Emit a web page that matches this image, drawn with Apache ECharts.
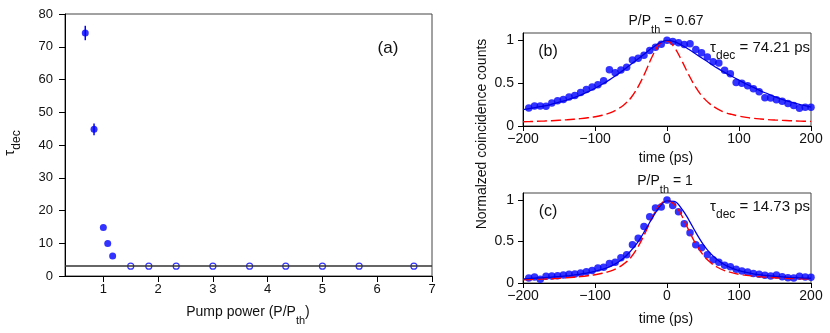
<!DOCTYPE html>
<html><head><meta charset="utf-8">
<script src="https://cdn.jsdelivr.net/npm/echarts@6/dist/echarts.min.js"></script>
<style>html,body{margin:0;padding:0;background:#fff}#c{width:830px;height:333px}</style>
</head><body><div id="c"></div>
<script>
// ---------- Panel (a) ----------
var aFilledX = [0.67, 0.83, 1.0, 1.08, 1.17];
var aFilledY = [74.2, 44.8, 14.8, 9.9, 6.1];
var aFilledErr = [2.2, 1.8, 0, 0, 0];
var aOpenX = [1.5, 1.83, 2.33, 3, 3.67, 4.33, 5, 5.67, 6.67];
var aOpenY = [3, 3, 3, 3, 3, 3, 3, 3, 3];
var aBaseline = 3;
var aXTicks = [1, 2, 3, 4, 5, 6, 7];

// ---------- Panels (b), (c) ----------
var tDots = [-192,-184,-176,-168,-160,-152,-144,-136,-128,-120,-112,-104,-96,-88,-80,-72,-64,-56,-48,-40,-32,-24,-16,-8,0,8,16,24,32,40,48,56,64,72,80,88,96,104,112,120,128,136,144,152,160,168,176,184,192,200];
var bDots = [0.21,0.233,0.233,0.23,0.268,0.296,0.31,0.338,0.355,0.39,0.425,0.455,0.482,0.528,0.655,0.62,0.652,0.685,0.77,0.79,0.825,0.88,0.92,0.955,1.0,0.985,0.97,0.95,0.96,0.893,0.855,0.805,0.75,0.735,0.65,0.61,0.508,0.5,0.47,0.435,0.40,0.33,0.328,0.305,0.288,0.262,0.24,0.208,0.218,0.218];
var cDots = [0.06,0.072,0.045,0.08,0.084,0.088,0.095,0.104,0.108,0.12,0.136,0.15,0.182,0.19,0.235,0.25,0.304,0.34,0.46,0.54,0.68,0.8,0.905,0.915,1.0,0.935,0.86,0.715,0.605,0.46,0.425,0.34,0.28,0.25,0.215,0.195,0.165,0.144,0.132,0.116,0.104,0.092,0.085,0.097,0.076,0.062,0.06,0.08,0.072,0.068];

var tFit = [-200,-190,-180,-170,-160,-150,-140,-130,-120,-110,-100,-90,-80,-70,-60,-50,-40,-30,-20,-10,0,10,20,30,40,50,60,70,80,90,100,110,120,130,140,150,160,170,180,190,200];
var bFit = [0.19,0.205,0.22,0.235,0.255,0.278,0.30,0.328,0.36,0.398,0.44,0.487,0.538,0.595,0.655,0.72,0.785,0.85,0.915,0.97,1.0,0.985,0.945,0.895,0.84,0.785,0.73,0.675,0.625,0.58,0.535,0.49,0.45,0.41,0.375,0.34,0.31,0.285,0.26,0.24,0.22];
var bIrf = [0.05,0.052,0.055,0.058,0.062,0.067,0.072,0.078,0.086,0.096,0.108,0.125,0.15,0.19,0.245,0.33,0.46,0.63,0.82,0.96,0.995,0.92,0.77,0.6,0.45,0.335,0.255,0.2,0.16,0.135,0.115,0.1,0.09,0.082,0.075,0.07,0.066,0.062,0.059,0.056,0.054];
var cFit = [0.05,0.055,0.06,0.065,0.07,0.077,0.085,0.096,0.108,0.122,0.14,0.163,0.195,0.24,0.3,0.39,0.5,0.64,0.79,0.92,0.99,0.985,0.9,0.765,0.61,0.47,0.36,0.28,0.22,0.18,0.15,0.128,0.11,0.098,0.088,0.08,0.073,0.068,0.064,0.06,0.057];
var cIrf = [0.04,0.042,0.045,0.048,0.052,0.057,0.063,0.07,0.078,0.088,0.1,0.117,0.14,0.175,0.23,0.31,0.44,0.61,0.8,0.94,0.995,0.95,0.82,0.64,0.47,0.34,0.25,0.19,0.15,0.125,0.105,0.092,0.082,0.074,0.068,0.063,0.058,0.055,0.052,0.05,0.048];

var titleB = 'P/P_th = 0.67', titleC = 'P/P_th = 1';
var tauB = '74.21', tauC = '14.73';

function zip(xs, ys){ return xs.map(function(x,i){ return [x, ys[i]]; }); }

var FONT = '"Liberation Sans", Arial, sans-serif';
var BLUE = '#0000ff', RED = '#ff0000', FITBLUE = '#0000e0';
var chart = echarts.init(document.getElementById('c'), null, {renderer:'canvas'});

function minusFmt(v){ return String(v).replace('-', '\u2212'); }

function sideAxisX(gi, min, max, interval, fs, margin){
  return {type:'value', gridIndex:gi, min:min, max:max, interval:interval,
    axisLine:{show:true, onZero:false, lineStyle:{color:'#000', width:1}},
    axisTick:{show:true, inside:false, length:5, lineStyle:{color:'#000'}},
    axisLabel:{fontFamily:FONT, fontSize:fs, color:'#111', margin:margin, formatter:minusFmt},
    splitLine:{show:false}};
}
function sideAxisY(gi, min, max, interval, fs, margin, fmt){
  return {type:'value', gridIndex:gi, min:min, max:max, interval:interval,
    axisLine:{show:true, onZero:false, lineStyle:{color:'#000', width:1}},
    axisTick:{show:true, inside:false, length:5, lineStyle:{color:'#000'}},
    axisLabel:{fontFamily:FONT, fontSize:fs, color:'#111', margin:margin, formatter:fmt},
    splitLine:{show:false}};
}

var xa = sideAxisX(0, 0.3, 7, 1, 13, 7);
xa.axisTick.customValues = aXTicks;
xa.axisLabel.customValues = aXTicks;
xa.axisTick.length = 6;

var ya = sideAxisY(0, 0, 80, 10, 13, 12);
ya.axisTick.length = 6;

var xb = sideAxisX(1, -200, 200, 100, 14, 6);
var yb = sideAxisY(1, 0, 1.085, 0.5, 14, 9, function(v){ return String(v); });
var xc = sideAxisX(2, -200, 200, 100, 14, 6);
var yc = sideAxisY(2, 0, 1.085, 0.5, 14, 9, function(v){ return String(v); });

function rich(main, sub, tail, fs, sfs, pad){
  return {
    text: '{n|' + main + '}{s|' + sub + '}' + (tail ? '{n|' + tail + '}' : ''),
    rich: {
      n:{fontFamily:FONT, fontSize:fs, lineHeight:fs+2, verticalAlign:'top', fill:'#111'},
      s:{fontFamily:FONT, fontSize:sfs, lineHeight:sfs, padding:[pad,0,0,0], verticalAlign:'top', fill:'#111'}
    }
  };
}
function richText(x, y, align, main, sub, tail, fs, sfs, pad, rot){
  var st = rich(main, sub, tail, fs, sfs, pad);
  st.align = align; st.verticalAlign = 'top';
  var el = {type:'text', x:x, y:y, style:st, z:100};
  if (rot) { el.rotation = rot; }
  return el;
}
function plain(x, y, text, fs, align){
  return {type:'text', x:x, y:y, z:100, style:{text:text, fontFamily:FONT, fontSize:fs, fill:'#111', align:align||'center', verticalAlign:'middle'}};
}

var tb = titleB.split('_'), tbRest = tb[1].split(' ');
var tc = titleC.split('_'), tcRest = tc[1].split(' ');

var option = {
  animation:false,
  backgroundColor:'#fff',
  grid:[
    {left:65, top:14, width:367, height:262, show:true, borderColor:'#444', borderWidth:1, backgroundColor:'transparent'},
    {left:523, top:33, width:288, height:93, show:true, borderColor:'#444', borderWidth:1, backgroundColor:'transparent'},
    {left:523, top:193, width:288, height:90, show:true, borderColor:'#444', borderWidth:1, backgroundColor:'transparent'}
  ],
  xAxis:[xa, xb, xc],
  yAxis:[ya, yb, yc],
  graphic:[
    plain(388, 48, '(a)', 17),
    plain(548, 52, '(b)', 16),
    plain(548, 212, '(c)', 16),
    richText(248, 305, 'center', 'Pump power (P/P', 'th', ')', 14, 11, 10),
    richText(666, 14, 'center', tb[0], tbRest[0], ' ' + tbRest.slice(1).join(' '), 14, 11, 10),
    richText(665, 174, 'center', tc[0], tcRest[0], ' ' + tcRest.slice(1).join(' '), 14, 11, 10),
    richText(810, 40, 'right', '\u03c4', 'dec', ' = ' + tauB + ' ps', 15, 12, 10),
    richText(810, 199, 'right', '\u03c4', 'dec', ' = ' + tauC + ' ps', 15, 12, 10),
    plain(666, 158, 'time (ps)', 14),
    plain(666, 319, 'time (ps)', 14),
    {type:'text', x:482, y:134, rotation:Math.PI/2, z:100,
      style:{text:'Normalzed coincidence counts', fontFamily:FONT, fontSize:14, fill:'#111', align:'center', verticalAlign:'middle'}},
    richText(2, 143, 'center', '\u03c4', 'dec', '', 15, 12, 9, Math.PI/2)
  ],
  series:[
    {type:'line', xAxisIndex:0, yAxisIndex:0, data:[], symbol:'none',
      markLine:{silent:true, symbol:'none', label:{show:false}, lineStyle:{color:'#333', width:1.5, type:'solid'}, data:[{yAxis:aBaseline}]}},
    {type:'custom', xAxisIndex:0, yAxisIndex:0, z:3,
      data: aFilledX.map(function(x,i){ return [x, aFilledY[i]-aFilledErr[i], aFilledY[i]+aFilledErr[i]]; }),
      encode:{x:0, y:[1,2]},
      renderItem:function(params, api){
        var p1 = api.coord([api.value(0), api.value(1)]);
        var p2 = api.coord([api.value(0), api.value(2)]);
        return {type:'line', shape:{x1:p1[0], y1:p1[1], x2:p2[0], y2:p2[1]}, style:{stroke:BLUE, lineWidth:1.5}};
      }},
    {type:'scatter', xAxisIndex:0, yAxisIndex:0, data:zip(aFilledX, aFilledY), symbol:'circle', symbolSize:7, itemStyle:{color:BLUE}, z:4},
    {type:'scatter', xAxisIndex:0, yAxisIndex:0, data:zip(aOpenX, aOpenY), symbol:'circle', symbolSize:6, itemStyle:{color:'#fff', borderColor:BLUE, borderWidth:1.2}, z:4},

    {type:'scatter', xAxisIndex:1, yAxisIndex:1, data:zip(tDots, bDots), symbol:'circle', symbolSize:7.5, itemStyle:{color:BLUE}, z:2},
    {type:'line', xAxisIndex:1, yAxisIndex:1, data:zip(tFit, bIrf), symbol:'none', smooth:0.4, lineStyle:{color:RED, width:1.4, type:[10,4]}, z:3},
    {type:'line', xAxisIndex:1, yAxisIndex:1, data:zip(tFit, bFit), symbol:'none', smooth:0.4, lineStyle:{color:FITBLUE, width:1.3}, z:3},

    {type:'scatter', xAxisIndex:2, yAxisIndex:2, data:zip(tDots, cDots), symbol:'circle', symbolSize:7.5, itemStyle:{color:BLUE}, z:2},
    {type:'line', xAxisIndex:2, yAxisIndex:2, data:zip(tFit, cIrf), symbol:'none', smooth:0.4, lineStyle:{color:RED, width:1.4, type:[10,4]}, z:3},
    {type:'line', xAxisIndex:2, yAxisIndex:2, data:zip(tFit, cFit), symbol:'none', smooth:0.4, lineStyle:{color:FITBLUE, width:1.3}, z:3}
  ]
};
chart.setOption(option);
</script>
</body></html>
